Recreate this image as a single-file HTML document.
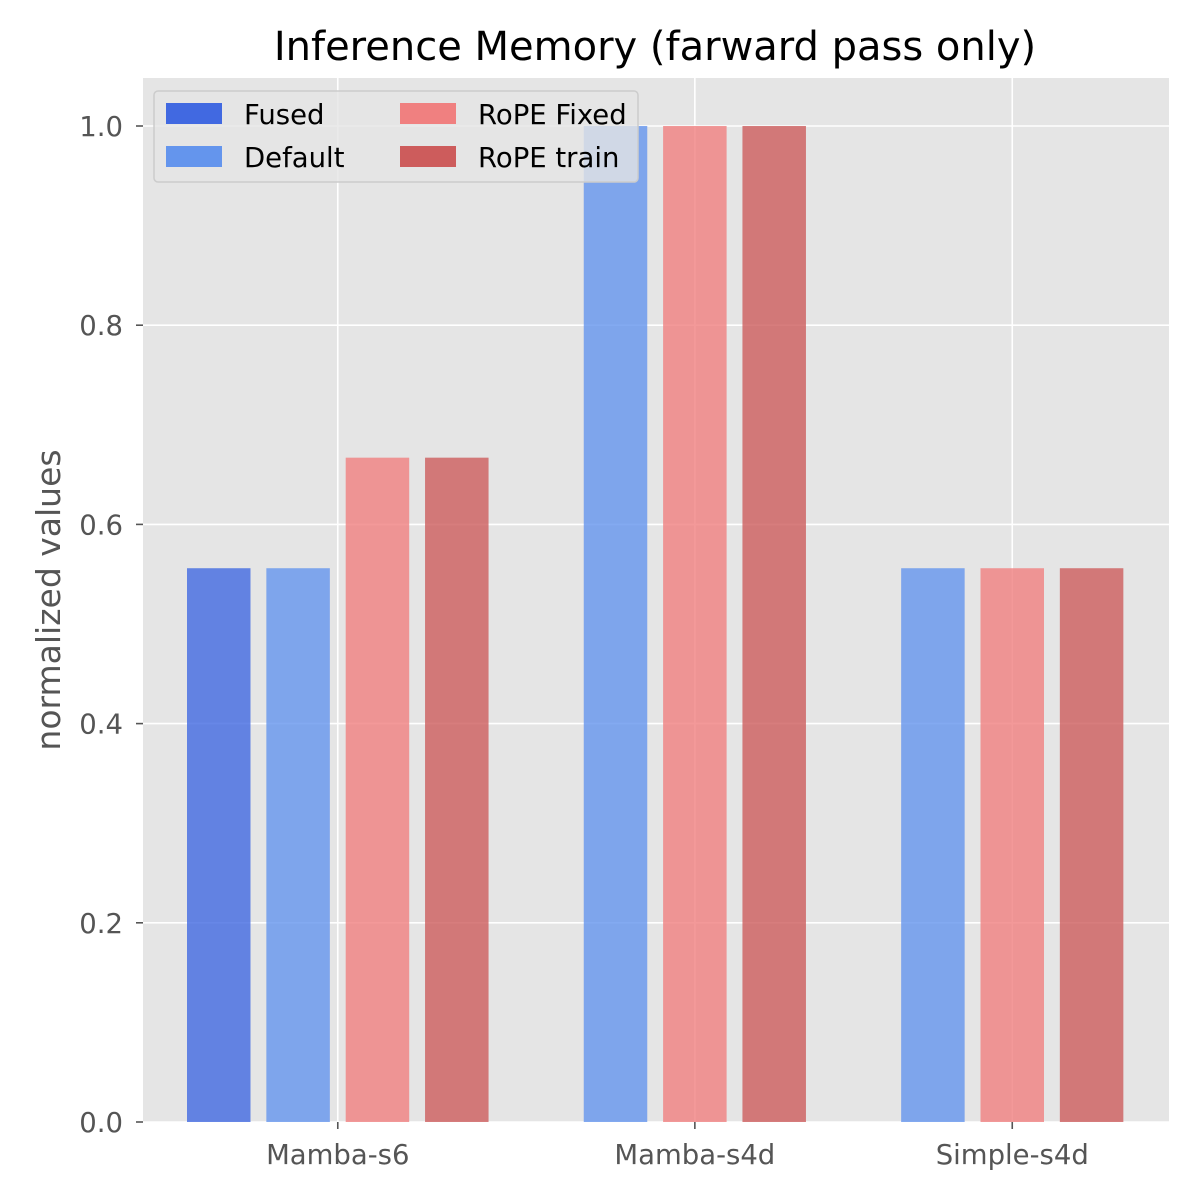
<!DOCTYPE html>
<html><head><meta charset="utf-8"><style>
html,body{margin:0;padding:0;background:#fff;}
svg{display:block;font-family:"DejaVu Sans","Liberation Sans",sans-serif;}
</style></head><body>
<svg id="chart" width="1200" height="1200" viewBox="0 0 1200 1200">
<rect x="143" y="78" width="1026" height="1044" fill="#E5E5E5"/>
<g id="grid"></g><g id="bars"></g><g id="axes"></g>
<text x="655" y="60" text-anchor="middle" font-size="40" fill="#000">Inference Memory (farward pass only)</text>
<text transform="translate(60,600) rotate(-90)" text-anchor="middle" font-size="33" fill="#555">normalized values</text>
<g id="legend"></g>
</svg>
<script>
const categories = ["Mamba-s6","Mamba-s4d","Simple-s4d"];
const seriesNames = ["Fused","Default","RoPE Fixed","RoPE train"];
const seriesColors = ["#4169E1","#6495ED","#F08080","#CD5C5C"];
const fusedValues = [0.556, null, null];
const defaultValues = [0.556, 1.0, 0.556];
const ropeFixedValues = [0.667, 1.0, 0.556];
const ropeTrainValues = [0.667, 1.0, 0.556];
const yTicks = [0.0,0.2,0.4,0.6,0.8,1.0];
const yTickLabels = ["0.0","0.2","0.4","0.6","0.8","1.0"];

const NS="http://www.w3.org/2000/svg";
const gGrid=document.getElementById('grid'),gBars=document.getElementById('bars'),gAxes=document.getElementById('axes'),gLeg=document.getElementById('legend');
function mk(tag,attrs,parent){const e=document.createElementNS(NS,tag);for(const k in attrs)e.setAttribute(k,attrs[k]);parent.appendChild(e);return e;}
const y0=1122,yTop1=126;
function yScale(v){return y0-(y0-yTop1)*v;}
const slotStart=187,slotStep=79.35,barW=63.5;
function xSlot(s){return slotStart+s*slotStep;}

const allSeries=[fusedValues,defaultValues,ropeFixedValues,ropeTrainValues];
let slot=0;const catCenters=[];
categories.forEach((c,ci)=>{
  const present=[];allSeries.forEach((s,si)=>{if(s[ci]!=null)present.push(si);});
  const first=slot;
  present.forEach(si=>{
    const v=allSeries[si][ci];
    const r=mk('rect',{x:xSlot(slot),y:yScale(v),width:barW,height:y0-yScale(v),fill:seriesColors[si],'fill-opacity':0.8},gBars);
    
    
    slot++;
  });
  catCenters.push((xSlot(first)+xSlot(slot-1)+barW)/2);
  slot++;
});

yTicks.forEach((t,i)=>{
  const y=yScale(t);
  const l=mk('line',{x1:143,x2:1169,y1:y,y2:y,stroke:'#fff','stroke-width':1.6},gGrid);
  
  
  mk('line',{x1:136,x2:143,y1:y,y2:y,stroke:'#555','stroke-width':1.6},gAxes);
  const tx=mk('text',{x:123,y:y+10,'text-anchor':'end','font-size':27.5,fill:'#555'},gAxes);
  tx.textContent=yTickLabels[i];
  
  
});
catCenters.forEach((x,i)=>{
  const l=mk('line',{x1:x,x2:x,y1:78,y2:1122,stroke:'#fff','stroke-width':1.6},gGrid);
  
  
  mk('line',{x1:x,x2:x,y1:1122,y2:1129,stroke:'#555','stroke-width':1.6},gAxes);
  const tx=mk('text',{x:x,y:1164,'text-anchor':'middle','font-size':27.5,fill:'#555'},gAxes);
  tx.textContent=categories[i];
  
  
});

mk('rect',{x:154,y:91,width:484,height:91,rx:4,fill:'#E5E5E5','fill-opacity':0.8,stroke:'#ccc','stroke-width':1.5},gLeg);
const legPos=[[166,103],[166,146],[400,103],[400,146]];
seriesNames.forEach((n,i)=>{
  const [x,y]=legPos[i];
  const g=mk('g',{},gLeg);
  
  
  mk('rect',{x:x,y:y,width:56,height:21,fill:seriesColors[i]},g);
  const t=mk('text',{x:x+78,y:y+21,'font-size':27.5,fill:'#000'},g);
  t.textContent=n;
});
</script>
</body></html>
